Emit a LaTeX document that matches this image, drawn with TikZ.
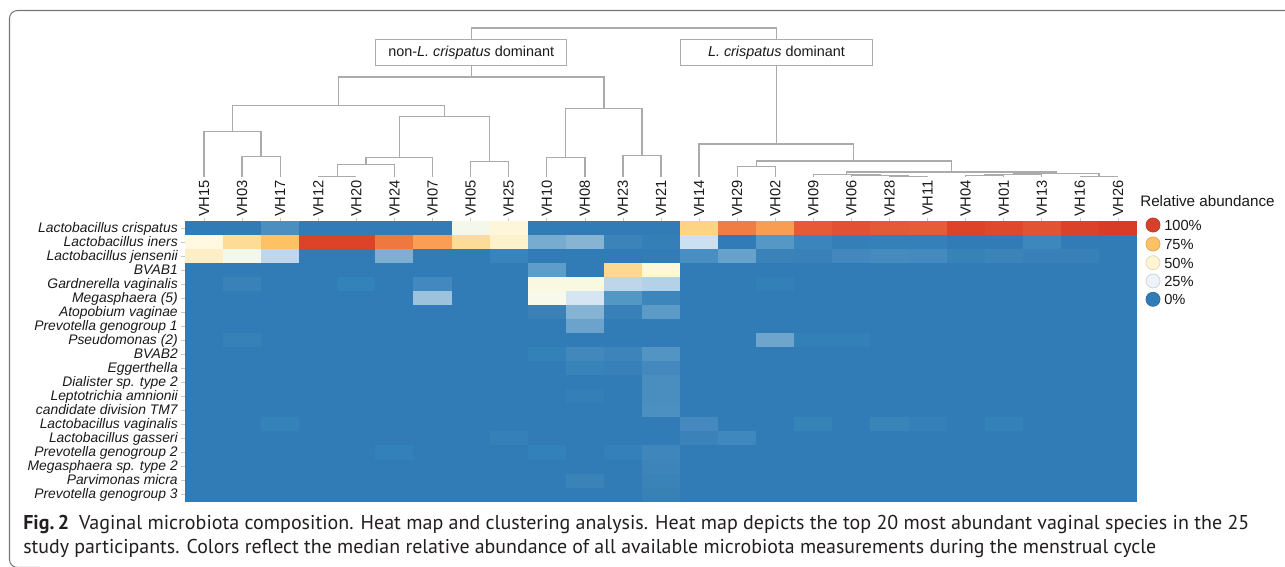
\documentclass[tikz,border=0pt]{standalone}
\usepackage{fontspec}
\usepackage{graphicx}
\setmainfont{Liberation Sans}
\newfontfamily\capfont{PT Sans}
\usetikzlibrary{calc}
\definecolor{basecol}{HTML}{317CB6}
\definecolor{dendgray}{HTML}{ABABAB}
\definecolor{framegray}{HTML}{777777}
\definecolor{tickgray}{HTML}{C8C8C8}
\definecolor{txt}{HTML}{1A1A1A}
\definecolor{captxt}{HTML}{231F20}
\newcommand\hc[3]{\definecolor{hctmp}{HTML}{#3}\fill[hctmp] ({185+38.08*(#1-1)},{221+14.03*(#2-1)}) rectangle ++(38.08,14.03);}
\newcommand\mrg[4]{\path let \p1=(#1), \p2=(#2) in coordinate (#4) at ({0.5*(\x1+\x2)},{-0.75pt*#3});\draw[dend] (#1) |- (#4) -| (#2);}
\begin{document}
\begin{tikzpicture}[x=0.75pt,y=-0.75pt,
  dend/.style={draw=dendgray,line width=1pt},
  grpbox/.style={draw=dendgray,line width=0.9pt,minimum width=143.5pt,minimum height=19.5pt,inner sep=0pt,text=txt,font=\fontsize{10.8}{12}\selectfont},
  collab/.style={rotate=90,anchor=east,inner sep=0pt,text=txt,font=\fontsize{11}{12}\selectfont},
  rowlab/.style={anchor=base east,inner sep=0pt,text=txt,font=\fontsize{10.4}{12}\selectfont\itshape},
  tick/.style={draw=tickgray,line width=0.5pt},
  legdot/.style={circle,minimum size=10.5pt,inner sep=0pt,line width=0.6pt},
  legtxt/.style={anchor=west,inner sep=0pt,text=txt,font=\fontsize{11}{12}\selectfont},
  captext/.style={anchor=base west,inner sep=0pt,text=captxt,font=\capfont\fontsize{15}{17}\selectfont}]
\useasboundingbox (0,0) rectangle (1285,567);
\fill[white] (0,0) rectangle (1285,567);
% frame
\draw[framegray,line width=0.8pt,rounded corners=6pt] (1290,10.5) -- (9.5,10.5) -- (9.5,567.5) -- (40,567.5);
% heat map
\fill[basecol] (185,221) rectangle (1137,501.6);
\hc{3}{1}{4A8FC0}\hc{8}{1}{F3F8EA}\hc{9}{1}{FEF6D8}\hc{14}{1}{FED383}\hc{15}{1}{F07E44}\hc{16}{1}{F99D52}\hc{17}{1}{E65B35}\hc{18}{1}{E35134}\hc{19}{1}{E55A36}\hc{20}{1}{E65C36}\hc{21}{1}{DC4328}\hc{22}{1}{DF482D}\hc{23}{1}{E25334}\hc{24}{1}{DB422A}\hc{25}{1}{D83C27}
\hc{1}{2}{FEF9E0}\hc{2}{2}{FDDC98}\hc{3}{2}{FEC265}\hc{4}{2}{DC4329}\hc{5}{2}{DC4329}\hc{6}{2}{EF7841}\hc{7}{2}{F99E54}\hc{8}{2}{FDDC98}\hc{9}{2}{FEF2CC}\hc{10}{2}{77ABCF}\hc{11}{2}{88B4D3}\hc{12}{2}{3A84BA}\hc{13}{2}{347FB7}\hc{14}{2}{CBE0F0}\hc{16}{2}{5598C6}\hc{17}{2}{3A85BB}\hc{18}{2}{347FB7}\hc{19}{2}{3480B8}\hc{20}{2}{3480B8}\hc{23}{2}{3C87BC}
\hc{1}{3}{FDEEC6}\hc{2}{3}{F3F8EA}\hc{3}{3}{BFD6EB}\hc{6}{3}{7EAFD1}\hc{9}{3}{3985BB}\hc{14}{3}{4A8FC1}\hc{15}{3}{66A2CC}\hc{16}{3}{3A83B9}\hc{17}{3}{3882B9}\hc{18}{3}{4288BE}\hc{19}{3}{468BBE}\hc{20}{3}{458ABE}\hc{21}{3}{3782B7}\hc{22}{3}{3B84BA}\hc{23}{3}{3781B8}\hc{24}{3}{3781B8}
\hc{10}{4}{5E9DC9}\hc{12}{4}{FDD890}\hc{13}{4}{FEF7D8}
\hc{2}{5}{3881B9}\hc{5}{5}{3482BA}\hc{7}{5}{4389BF}\hc{10}{5}{F9F8E0}\hc{11}{5}{F9F8E0}\hc{12}{5}{BFD5EA}\hc{13}{5}{B5D1E7}\hc{16}{5}{3380B8}
\hc{7}{6}{9CC2DE}\hc{10}{6}{F7F9EA}\hc{11}{6}{D5E6F2}\hc{12}{6}{5397C4}\hc{13}{6}{3D86BB}
\hc{10}{7}{3B81B6}\hc{11}{7}{84B3D3}\hc{12}{7}{3880B8}\hc{13}{7}{5C9BC8}
\hc{11}{8}{6CA3CB}
\hc{2}{9}{3581B8}\hc{16}{9}{6DA5CC}\hc{17}{9}{3380B9}\hc{18}{9}{3380B9}
\hc{10}{10}{3480B8}\hc{11}{10}{4388BD}\hc{12}{10}{3C84B9}\hc{13}{10}{5294C4}
\hc{11}{11}{3883B9}\hc{12}{11}{3880B8}\hc{13}{11}{4389BE}
\hc{13}{12}{4A8EC0}
\hc{11}{13}{347FB8}\hc{13}{13}{4A8EC0}
\hc{13}{14}{4C90C1}
\hc{3}{15}{3582BA}\hc{14}{15}{4689BF}\hc{17}{15}{3683B7}\hc{19}{15}{3985BA}\hc{20}{15}{3580B8}\hc{22}{15}{3480B8}
\hc{9}{16}{3580B8}\hc{14}{16}{3A82B8}\hc{15}{16}{3F88BD}
\hc{6}{17}{3381BA}\hc{10}{17}{3381BA}\hc{12}{17}{3380BA}\hc{13}{17}{3F86BC}
\hc{13}{18}{3C84BA}
\hc{11}{19}{3A83B9}\hc{13}{19}{3983B8}
\hc{13}{20}{3881B5}
% ticks
\foreach \k in {1,...,25} \draw[tick] ({185+38.08*(\k-0.5)},217.5) -- ++(0,3.5);
\foreach \i in {1,...,20} \draw[tick] (181,{221+14.03*(\i-0.5)}) -- ++(4,0);
% row labels
\foreach \i/\t in {1/Lactobacillus crispatus,2/Lactobacillus iners,3/Lactobacillus jensenii,4/BVAB1,5/Gardnerella vaginalis,6/Megasphaera (5),7/Atopobium vaginae,8/Prevotella genogroup 1,9/Pseudomonas (2),10/BVAB2,11/Eggerthella,12/Dialister sp. type 2,13/Leptotrichia amnionii,14/candidate division TM7,15/Lactobacillus vaginalis,16/Lactobacillus gasseri,17/Prevotella genogroup 2,18/Megasphaera sp. type 2,19/Parvimonas micra,20/Prevotella genogroup 3}
  \node[rowlab] (r\i) at (178,{221+14.03*(\i-0.5)+4.2}) {\t};
% column labels and leaves
\foreach \k/\lab in {1/VH15,2/VH03,3/VH17,4/VH12,5/VH20,6/VH24,7/VH07,8/VH05,9/VH25,10/VH10,11/VH08,12/VH23,13/VH21,14/VH14,15/VH29,16/VH02,17/VH09,18/VH06,19/VH28,20/VH11,21/VH04,22/VH01,23/VH13,24/VH16,25/VH26}{
  \coordinate (l\k) at ({185+38.08*(\k-0.5)},176.7);
  \node[collab] (c\k) at ({185+38.08*(\k-0.5)},180) {\lab};
}
% dendrogram: non-L. crispatus side
\mrg{l2}{l3}{156.3}{m1}
\mrg{l1}{m1}{131.7}{m2}
\mrg{l4}{l5}{176.7}{m3}
\mrg{m3}{l6}{164.3}{m4}
\mrg{m4}{l7}{157.7}{m5}
\mrg{l8}{l9}{161.7}{m6}
\mrg{m5}{m6}{116.7}{m7}
\mrg{m2}{m7}{105.7}{m8}
\mrg{l10}{l11}{157.7}{m9}
\mrg{l12}{l13}{155.3}{m10}
\mrg{m9}{m10}{108.7}{m11}
\mrg{m8}{m11}{77}{m12}
% L. crispatus side
\mrg{l15}{l16}{166.7}{n1}
\mrg{l19}{l20}{176.7}{n2}
\mrg{l18}{n2}{175.7}{n3}
\mrg{l17}{n3}{174.7}{n4}
\mrg{l21}{l22}{175.7}{n5}
\mrg{n5}{l23}{174.7}{n6}
\mrg{l24}{l25}{176.7}{n7}
\mrg{n6}{n7}{173.7}{n8}
\mrg{n4}{n8}{172}{n9}
\mrg{n1}{n9}{161}{n10}
\mrg{l14}{n10}{144}{n11}
% group boxes
\coordinate (boxrow) at (0,52.3);
\coordinate (rooty) at (0,28);
\node[grpbox] (nonL) at (m12 |- boxrow) {non-\textit{L. crispatus} dominant};
\node[grpbox] (Lbox) at (n11 |- boxrow) {\textit{L. crispatus} dominant};
\draw[dend] (m12) -- (nonL.south);
\draw[dend] (n11) -- (Lbox.south);
\draw[dend] (nonL.north) -- (nonL.north |- rooty) -- (Lbox.north |- rooty) -- (Lbox.north);
% legend
\node[anchor=west,inner sep=0pt,text=txt,font=\fontsize{11.4}{13}\selectfont] (legtitle) at (1140,201) {Relative abundance};
\node[legdot,fill={rgb,255:red,215;green,64;blue,42},draw={rgb,255:red,192;green,57;blue,42}] (d100) at (1153,225) {};
\node[legdot,fill={rgb,255:red,254;green,194;blue,101},draw={rgb,255:red,227;green,168;blue,82}] (d75) at (1153,244) {};
\node[legdot,fill={rgb,255:red,255;green,245;blue,212},draw={rgb,255:red,230;green,221;blue,181}] (d50) at (1153,262.7) {};
\node[legdot,fill={rgb,255:red,236;green,243;blue,250},draw={rgb,255:red,205;green,213;blue,221}] (d25) at (1153,281) {};
\node[legdot,fill=basecol,draw={rgb,255:red,46;green,110;blue,158}] (d0) at (1153,299.3) {};
\node[legtxt] (t100) at (1164,225.5) {100\%};
\node[legtxt] (t75) at (1164,244.5) {75\%};
\node[legtxt] (t50) at (1164,263.2) {50\%};
\node[legtxt] (t25) at (1164,281.5) {25\%};
\node[legtxt] (t0) at (1164,299.8) {0\%};
% caption
\node[captext] (cap1) at (23,529.5) {\resizebox{919.5pt}{\height}{\textbf{Fig.\,2}\hspace{0.5em}Vaginal microbiota composition. Heat map and clustering analysis. Heat map depicts the top 20 most abundant vaginal species in the 25}};
\node[captext] (cap2) at (23,553) {\resizebox{849.75pt}{\height}{study participants. Colors reflect the median relative abundance of all available microbiota measurements during the menstrual cycle}};
\end{tikzpicture}
\end{document}
